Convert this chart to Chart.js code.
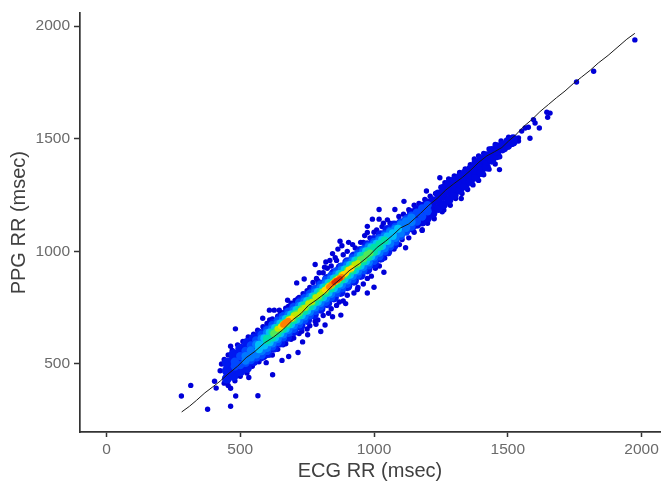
<!DOCTYPE html>
<html>
<head>
<meta charset="utf-8">
<style>
  html, body { margin: 0; padding: 0; background: #fff; }
  canvas { display: block; filter: blur(0.55px); }
</style>
</head>
<body>
<canvas id="chart" width="665" height="485"></canvas>
<script src="https://cdn.jsdelivr.net/npm/chart.js"></script>
<script>
// Tick labels
const xTicks = [0, 500, 1000, 1500, 2000]
const yTicks = [500, 1000, 1500, 2000]

// Trend line
const trend = [[281,287],[310,312],[336,338],[368,372],[398,399],[425,424],[454,455],[490,490],[522,528],[555,556],[590,593],[625,620],[659,652],[695,695],[727,724],[755,760],[783,783],[815,812],[845,848],[875,878],[907,914],[945,945],[981,980],[1012,1018],[1043,1045],[1070,1072],[1099,1104],[1130,1122],[1174,1169],[1205,1205],[1236,1235],[1268,1272],[1298,1300],[1330,1328],[1360,1359],[1392,1396],[1422,1424],[1450,1442],[1478,1461],[1503,1490],[1528,1515],[1560,1555],[1590,1585],[1620,1620],[1652,1652],[1682,1682],[1714,1712],[1745,1745],[1776,1774],[1808,1804],[1838,1836],[1875,1870],[1912,1908],[1945,1942],[1975,1968]]

// Scatter points grouped by local density, hottest first
const densityRed = [[850,862],[858,870],[866,874],[874,880]]
const densityOrange = [[660,674],[666,682],[672,686],[680,692],[832,842],[840,852],[848,858],[856,868],[864,872],[872,882],[880,886]]
const densityYellow = [[652,668],[660,672],[668,684],[676,688],[684,698],[692,702],[816,830],[826,840],[836,846],[846,860],[856,864],[866,880],[876,884],[886,900],[896,904],[906,920],[916,924]]
const densityLime = [[640,656],[650,660],[660,678],[670,680],[680,698],[690,700],[700,716],[712,720],[726,738],[740,750],[754,768],[768,776],[782,796],[796,806],[808,822],[820,830],[832,848],[844,852],[856,872],[868,876],[880,896],[892,900],[904,918],[916,926],[928,942],[940,948]]
const densityLeaf = [[625,635],[637,650],[649,655],[661,675],[673,680],[685,700],[697,703],[709,723],[721,727],[733,747],[745,751],[757,771],[769,775],[781,795],[793,799],[805,819],[817,823],[829,843],[841,847],[853,867],[865,871],[877,891],[889,895],[901,915],[913,919],[925,939],[937,943],[949,963],[961,967],[973,985],[985,993]]
const densityTeal = [[600,612],[600,604],[620,640],[620,618],[640,661],[640,635],[660,681],[660,655],[680,701],[680,675],[700,721],[700,695],[720,741],[720,715],[740,761],[740,735],[760,781],[760,755],[780,801],[780,775],[800,821],[800,795],[820,841],[820,815],[840,861],[840,835],[860,881],[860,855],[880,901],[880,875],[900,921],[900,895],[920,941],[920,915],[940,961],[940,935],[960,981],[960,955],[980,1000],[980,975],[1000,1016],[1000,997],[1020,1032],[1020,1020],[1040,1048]]
const densitySky = [[570,585],[570,565],[590,614],[590,582],[610,640],[610,596],[630,660],[630,616],[650,680],[650,636],[670,700],[670,656],[690,720],[690,676],[710,740],[710,696],[730,760],[730,716],[750,780],[750,736],[770,800],[770,756],[790,820],[790,776],[810,840],[810,796],[830,860],[830,816],[850,880],[850,836],[870,900],[870,856],[890,920],[890,876],[910,940],[910,896],[930,960],[930,916],[950,980],[950,936],[970,1000],[970,956],[990,1018],[990,978],[1010,1034],[1010,1000],[1030,1050],[1030,1024],[1050,1066],[1050,1046],[1070,1080],[1070,1068],[1090,1100]]
const densityAzure = [[520,535],[520,515],[540,560],[540,530],[560,587],[560,543],[580,613],[580,557],[600,638],[600,572],[620,658],[620,592],[640,678],[640,612],[660,698],[660,632],[680,718],[680,652],[700,738],[700,672],[720,758],[720,692],[740,778],[740,712],[760,798],[760,732],[780,818],[780,752],[800,838],[800,772],[820,858],[820,792],[840,878],[840,812],[860,898],[860,832],[880,918],[880,852],[900,938],[900,872],[920,958],[920,892],[940,978],[940,912],[960,998],[960,932],[980,1018],[980,952],[1000,1033],[1000,977],[1020,1050],[1020,995],[1040,1067],[1040,1015],[1060,1085],[1060,1035],[1080,1100],[1080,1060],[1100,1118],[1100,1080],[1120,1133],[1120,1105],[1140,1150],[1140,1130]]
const densityCobalt = [[480,510],[480,490],[500,535],[500,495],[520,558],[520,505],[540,582],[540,518],[560,605],[560,530],[580,630],[580,540],[600,650],[600,558],[620,672],[620,578],[640,692],[640,598],[660,712],[660,618],[680,732],[680,638],[700,752],[700,656],[720,772],[720,676],[740,792],[740,696],[760,812],[760,716],[780,832],[780,736],[800,852],[800,756],[820,872],[820,776],[840,892],[840,796],[860,912],[860,816],[880,932],[880,836],[900,950],[900,856],[920,970],[920,876],[940,990],[940,896],[960,1008],[960,916],[980,1025],[980,938],[1000,1042],[1000,958],[1020,1058],[1020,978],[1040,1075],[1040,1000],[1060,1092],[1060,1022],[1080,1108],[1080,1044],[1100,1125],[1100,1068],[1120,1142],[1120,1088],[1140,1158],[1140,1110],[1160,1172],[1160,1132],[1180,1190],[1180,1155],[1200,1205],[1200,1178]]
const densityBlue = [[450,435],[450,470],[450,505],[475,447],[475,480],[475,520],[475,543],[500,467],[500,505],[500,540],[500,568],[525,482],[525,520],[525,555],[525,593],[550,512],[550,550],[550,585],[550,613],[575,532],[575,570],[575,605],[575,633],[600,652],[600,615],[600,580],[600,548],[625,677],[625,640],[625,605],[625,572],[650,702],[650,665],[650,630],[650,595],[675,727],[675,690],[675,655],[675,620],[700,752],[700,715],[700,680],[700,645],[725,777],[725,740],[725,705],[725,670],[750,802],[750,765],[750,730],[750,695],[775,827],[775,790],[775,755],[775,720],[800,852],[800,815],[800,780],[800,745],[825,877],[825,840],[825,805],[825,770],[850,902],[850,865],[850,830],[850,795],[875,927],[875,890],[875,855],[875,820],[900,952],[900,915],[900,880],[900,845],[925,977],[925,940],[925,905],[925,870],[950,1002],[950,965],[950,930],[950,895],[975,1027],[975,990],[975,955],[975,920],[1000,1050],[1000,1015],[1000,980],[1000,945],[1025,1072],[1025,1040],[1025,1005],[1025,972],[1050,1095],[1050,1065],[1050,1030],[1050,1000],[1075,1115],[1075,1088],[1075,1060],[1075,1030],[1100,1085],[1100,1125],[1125,1105],[1125,1145]]
const densityDeep = [[1140,1105],[1140,1140],[1140,1172],[1160,1120],[1160,1152],[1160,1185],[1180,1130],[1180,1165],[1180,1200],[1200,1148],[1200,1180],[1200,1215],[1220,1168],[1220,1200],[1220,1225],[1240,1190],[1240,1225],[1240,1255],[1260,1208],[1260,1245],[1260,1280],[1280,1228],[1280,1265],[1280,1300],[1300,1250],[1300,1280],[1300,1315],[1320,1272],[1320,1300],[1320,1330],[1340,1290],[1340,1320],[1340,1348],[1360,1310],[1360,1340],[1360,1365],[1380,1330],[1380,1360],[1380,1390],[1400,1350],[1400,1380],[1400,1408],[1420,1375],[1420,1400],[1420,1425],[1440,1405],[1440,1425],[1440,1448],[1460,1425],[1460,1445],[1460,1465],[1480,1455],[1480,1472],[1500,1470],[1500,1488],[1520,1485],[1520,1500]]
const densityEdge = [
  // lower left and outliers
  [280,358],[315,405],[378,299],[464,312],[483,358],[464,392],[404,423],[410,393],[566,359],[532,440],[621,452],[656,516],[681,533],[716,551],[733,598],[801,644],[464,579],[482,656],[584,703],[609,739],[627,739],[646,739],[677,783],[711,860],[739,877],[780,942],[820,953],[855,972],[873,1045],[1019,1186],[1078,1186],[975,1111],[975,1084],[994,1143],[1019,1143],[1118,1016],[1037,907],[1000,841],[975,815],[938,831],[894,768],[876,717],[845,710],[817,673],[783,676],[752,630],[597,506],
  // top right outliers
  [1975,1939],[1821,1800],[1757,1752],[1646,1618],[1658,1614],[1649,1595],[1618,1548],[1602,1570],[1596,1585],[1583,1502],[1577,1551],[1565,1548],[1552,1534],[1540,1504],[1521,1497],[1503,1497],[1469,1363],[1246,1327],[1196,1268],[1112,1222],[1255,1176],[1326,1235],[1180,1093],
  // upper fringe
  [425,470],[430,500],[440,520],[455,540],[470,560],[490,585],[510,600],[530,620],[550,632],[565,650],[585,665],[600,680],[610,695],[620,700],[640,712],[650,722],[660,728],[670,748],[680,755],[690,770],[705,782],[715,790],[720,795],[735,812],[750,825],[760,840],[772,862],[785,880],[790,870],[795,905],[810,905],[815,930],[825,925],[835,960],[840,935],[845,990],[860,960],[865,1010],[880,1025],[885,985],[900,1000],[905,1040],[920,1030],[930,1015],[950,1040],[960,1040],[965,1070],[985,1060],[1000,1085],[1010,1095],[1030,1110],[1035,1125],[1050,1140],[1060,1125],[1093,1155],[1110,1165],[1130,1185],[1150,1205],[1168,1213],[1190,1230],[1210,1245],[1230,1257],[1250,1285],[1265,1305],[1279,1322],[1300,1335],[1320,1350],[1341,1366],[1360,1385],[1375,1410],[1391,1424],[1410,1435],[1430,1455],[1453,1475],[1475,1490],[1503,1507],
  // lower fringe
  [440,415],[455,405],[480,425],[500,445],[525,460],[545,490],[570,510],[590,530],[610,540],[620,540],[640,565],[660,585],[670,590],[690,610],[700,615],[720,635],[730,645],[750,655],[760,670],[780,690],[790,695],[810,715],[830,725],[840,745],[860,760],[870,775],[885,780],[900,805],[925,815],[940,840],[960,855],[975,880],[990,890],[1005,925],[1020,935],[1040,970],[1055,990],[1070,1015],[1075,1010],[1095,1030],[1105,1053],[1130,1060],[1150,1085],[1180,1096],[1200,1125],[1225,1145],[1261,1184],[1285,1205],[1305,1235],[1329,1257],[1350,1275],[1370,1295],[1391,1315],[1410,1340],[1430,1365],[1453,1388],[1470,1420],[1490,1453],[1515,1475],[1540,1490]
]

const toXY = list => list.map(p => ({ x: p[0], y: p[1] }))

function layer(points, color, radius) {
  return {
    type: 'scatter',
    data: toXY(points),
    backgroundColor: color,
    borderWidth: 0,
    pointRadius: radius,
    pointHoverRadius: radius
  }
}

const tickText = { color: '#6a6a6a', font: { family: 'Liberation Sans', size: 15.5 }, callback: v => String(v) }
const titleText = { color: '#404040', font: { family: 'Liberation Sans', size: 20 } }
const axisColor = '#333333'

new Chart(document.getElementById('chart'), {
  type: 'scatter',
  data: {
    datasets: [
      {
        type: 'line',
        data: toXY(trend),
        borderColor: '#1a1a1a',
        borderWidth: 1,
        pointRadius: 0,
        tension: 0
      },
      layer(densityRed, '#e83000', 2.5),
      layer(densityOrange, '#ff8000', 3),
      layer(densityYellow, '#ffd800', 3),
      layer(densityLime, '#c0e800', 3),
      layer(densityLeaf, '#50e858', 3.5),
      layer(densityTeal, '#00e0a8', 4),
      layer(densitySky, '#00c0f8', 4),
      layer(densityAzure, '#0078ff', 4.2),
      layer(densityCobalt, '#0048ff', 4.2),
      layer(densityBlue, '#0018f0', 5),
      layer(densityDeep, '#0008e4', 4.5),
      layer(densityEdge, '#0000d8', 2.7)
    ]
  },
  options: {
    responsive: false,
    animation: false,
    layout: { padding: { top: 7, right: 3, left: 0, bottom: 0 } },
    plugins: { legend: { display: false }, tooltip: { enabled: false } },
    scales: {
      x: {
        type: 'linear',
        min: -99,
        max: 2069,
        afterBuildTicks: s => { s.ticks = xTicks.map(v => ({ value: v })) },
        afterFit: s => { s.height = 53 },
        grid: { drawOnChartArea: false, drawTicks: true, tickLength: 5, tickColor: axisColor, tickWidth: 1.5 },
        border: { color: axisColor, width: 1.7 },
        ticks: { ...tickText, padding: 3, maxRotation: 0 },
        title: { display: true, text: 'ECG RR (msec)', padding: { top: 0, bottom: 2 }, ...titleText }
      },
      y: {
        type: 'linear',
        min: 198,
        max: 2057,
        afterBuildTicks: s => { s.ticks = yTicks.map(v => ({ value: v })) },
        afterFit: s => { s.width = 80 },
        grid: { drawOnChartArea: false, drawTicks: true, tickLength: 6, tickColor: axisColor, tickWidth: 1.5 },
        border: { color: axisColor, width: 1.7 },
        ticks: { ...tickText, padding: 4 },
        title: { display: true, text: 'PPG RR (msec)', padding: { top: 7, bottom: 0 }, ...titleText }
      }
    }
  }
})
</script>
</body>
</html>
